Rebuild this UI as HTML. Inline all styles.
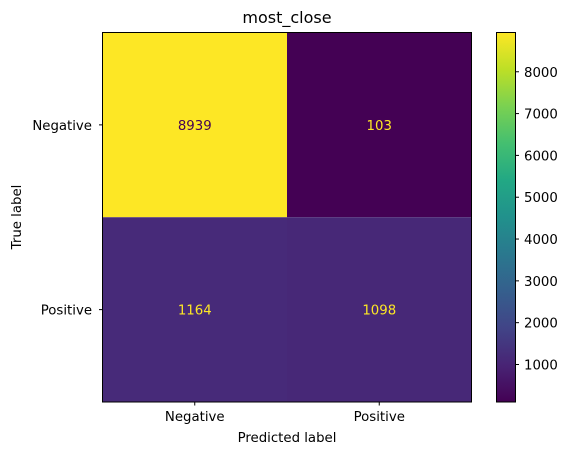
<!DOCTYPE html>
<html><head><meta charset="utf-8"><style>
body{margin:0;background:#fff;}
svg text{font-family:"DejaVu Sans","Liberation Sans",sans-serif;font-size:13.3px;fill:#000;}
</style></head><body>
<svg id="chart" width="569" height="455">
<defs>
<linearGradient id="vir" x1="0" y1="1" x2="0" y2="0">
<stop offset="0" stop-color="#440154"/><stop offset="0.1" stop-color="#482475"/><stop offset="0.2" stop-color="#414487"/><stop offset="0.3" stop-color="#355f8d"/><stop offset="0.4" stop-color="#2a788e"/><stop offset="0.5" stop-color="#21918c"/><stop offset="0.6" stop-color="#22a884"/><stop offset="0.7" stop-color="#44bf70"/><stop offset="0.8" stop-color="#7ad151"/><stop offset="0.9" stop-color="#bddf26"/><stop offset="1" stop-color="#fde725"/>
</linearGradient>
</defs>
<g id="cells"></g>
<rect x="102.5" y="32.5" width="369" height="369.5" fill="none" stroke="#000" stroke-width="1"/>
<text x="287" y="23" text-anchor="middle" style="font-size:16px">most_close</text>
<g id="ticks"></g>
<text x="287" y="442" text-anchor="middle">Predicted label</text>
<text transform="translate(21,217) rotate(-90)" text-anchor="middle">True label</text>
<rect x="496.5" y="32.5" width="19" height="369.5" fill="url(#vir)" stroke="#000" stroke-width="1"/>
<g id="cbticks"></g>
</svg>
<script>
const categories=["Negative","Positive"];
const values=[[8939,103],[1164,1098]];
const cbTicks=[1000,2000,3000,4000,5000,6000,7000,8000];
const vir=["#440154","#482475","#414487","#355f8d","#2a788e","#21918c","#22a884","#44bf70","#7ad151","#bddf26","#fde725"];
const NS="http://www.w3.org/2000/svg";
const L=102.5,T=32.5,W=369,H=369.5;
const flat=values.flat(),vmin=Math.min(...flat),vmax=Math.max(...flat);
function hex(h){return [1,3,5].map(i=>parseInt(h.substr(i,2),16));}
function cmap(t){t=Math.max(0,Math.min(1,t));const p=t*10,i=Math.min(9,Math.floor(p)),f=p-i;const a=hex(vir[i]),b=hex(vir[i+1]);return "rgb("+a.map((v,k)=>Math.round(v+(b[k]-v)*f)).join(",")+")";}
const n=categories.length,cw=W/n,ch=H/n;
const xs=i=>L+cw*(i+0.5),ys=i=>T+ch*(i+0.5);
function mk(tag,attrs,parent){const e=document.createElementNS(NS,tag);for(const k in attrs)e.setAttribute(k,attrs[k]);parent.appendChild(e);return e;}
const cells=document.getElementById('cells'),ticks=document.getElementById('ticks'),cbt=document.getElementById('cbticks');
values.forEach((row,r)=>row.forEach((v,c)=>{
 const t=(v-vmin)/(vmax-vmin);
 const rc=mk('rect',{x:L+cw*c,y:T+ch*r,width:cw,height:ch,fill:cmap(t)},cells);
 
 
 const tx=mk('text',{x:xs(c),y:ys(r)+5,'text-anchor':'middle',style:'fill:'+(t>0.5?vir[0]:vir[10])},cells);
 tx.textContent=v;
 
 
}));
categories.forEach((c,i)=>{
 const l1=mk('line',{x1:xs(i),x2:xs(i),y1:402,y2:405.5,stroke:'#000'},ticks);
 
 
 const t1=mk('text',{x:xs(i),y:421,'text-anchor':'middle'},ticks);t1.textContent=c;
 
 
 const l2=mk('line',{x1:99,x2:102.5,y1:ys(i),y2:ys(i),stroke:'#000'},ticks);
 
 
 const t2=mk('text',{x:92,y:ys(i)+5,'text-anchor':'end'},ticks);t2.textContent=c;
 
 
});
const cy=v=>402-(v-vmin)/(vmax-vmin)*369.5;
cbTicks.forEach(v=>{
 const l=mk('line',{x1:515.5,x2:519,y1:cy(v),y2:cy(v),stroke:'#000'},cbt);
 
 
 const t=mk('text',{x:524,y:cy(v)+5},cbt);t.textContent=v;
 
 
});
</script>
</body></html>
